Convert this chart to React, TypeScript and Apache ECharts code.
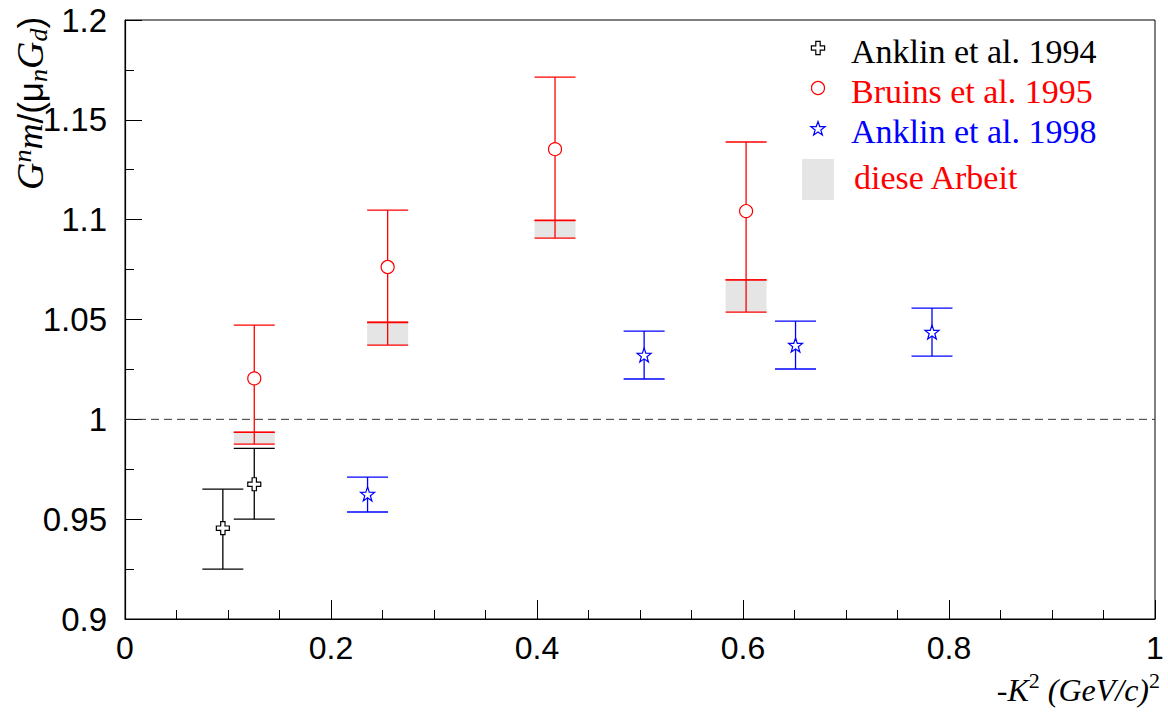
import React, { useEffect, useRef } from "react";
import * as echarts from "echarts";

// ---- data ----
const xTicks = { min: 0, max: 1, interval: 0.2 };
const yTicks = { min: 0.9, max: 1.2, interval: 0.05 };

const anklin94X = [0.095, 0.1255];
const anklin94Y = [0.9455, 0.9675];
const anklin94Lo = [0.925, 0.95];
const anklin94Hi = [0.965, 0.9855];

const bruins95X = [0.1255, 0.255, 0.4175, 0.603];
const bruins95Y = [1.0205, 1.0763, 1.1353, 1.1043];
const bruins95Lo = [0.9935, 1.0485, 1.0995, 1.0698];
const bruins95Hi = [1.0472, 1.1048, 1.1714, 1.1389];

const dieseX = [0.1255, 0.255, 0.4175, 0.603];
const dieseLo = [0.9876, 1.0372, 1.0908, 1.0537];
const dieseHi = [0.9936, 1.0487, 1.0998, 1.0698];

const anklin98X = [0.2355, 0.504, 0.651, 0.7835];
const anklin98Y = [0.9626, 1.0322, 1.0372, 1.0437];
const anklin98Lo = [0.9536, 1.0202, 1.0252, 1.0317];
const anklin98Hi = [0.9711, 1.0442, 1.0492, 1.0557];

const refLineX = [0, 1];
const refLineY = 1;

const legendNames = ["Anklin et al. 1994", "Bruins et al. 1995", "Anklin et al. 1998", "diese Arbeit"];

// ---- styles ----
const RED = "#ff0000";
const BLUE = "#0000ff";
const BLACK = "#000000";
const BOXFILL = "#e5e5e5";
const CAP = 20.5;
const SERIF = "'Liberation Serif', 'Times New Roman', serif";
const SANS = "'Liberation Sans', Arial, sans-serif";

const CROSS_PATH = "path://M-1,-3L1,-3L1,-1L3,-1L3,1L1,1L1,3L-1,3L-1,1L-3,1L-3,-1L-1,-1Z";
const STAR_PTS: number[][] = [
  [0, -1], [0.235, -0.324], [0.951, -0.309], [0.38, 0.124], [0.588, 0.809],
  [0, 0.4], [-0.588, 0.809], [-0.38, 0.124], [-0.951, -0.309], [-0.235, -0.324],
];
const STAR_PATH = "path://M" + STAR_PTS.map((p) => p[0] + "," + p[1]).join("L") + "Z";
const CROSS_PTS: number[][] = [
  [-1, -3], [1, -3], [1, -1], [3, -1], [3, 1], [1, 1], [1, 3], [-1, 3], [-1, 1], [-3, 1], [-3, -1], [-1, -1],
];

function errorBar(color: string, lw: number) {
  return (params: any, api: any) => {
    const x = api.value(0);
    const pLo = api.coord([x, api.value(1)]);
    const pHi = api.coord([x, api.value(2)]);
    const style = { stroke: color, lineWidth: lw };
    return {
      type: "group",
      children: [
        { type: "line", shape: { x1: pLo[0], y1: pLo[1], x2: pHi[0], y2: pHi[1] }, style },
        { type: "line", shape: { x1: pLo[0] - CAP, y1: pLo[1], x2: pLo[0] + CAP, y2: pLo[1] }, style },
        { type: "line", shape: { x1: pHi[0] - CAP, y1: pHi[1], x2: pHi[0] + CAP, y2: pHi[1] }, style },
      ],
    };
  };
}

function boxItem(params: any, api: any) {
  const x = api.value(0);
  const pLo = api.coord([x, api.value(1)]);
  const pHi = api.coord([x, api.value(2)]);
  const style = { stroke: RED, lineWidth: 1.3 };
  return {
    type: "group",
    children: [
      {
        type: "rect",
        shape: { x: pLo[0] - CAP, y: pHi[1], width: 2 * CAP, height: pLo[1] - pHi[1] },
        style: { fill: BOXFILL },
      },
      { type: "line", shape: { x1: pLo[0], y1: pLo[1], x2: pHi[0], y2: pHi[1] }, style },
      { type: "line", shape: { x1: pLo[0] - CAP, y1: pLo[1], x2: pLo[0] + CAP, y2: pLo[1] }, style },
      { type: "line", shape: { x1: pHi[0] - CAP, y1: pHi[1], x2: pHi[0] + CAP, y2: pHi[1] }, style },
    ],
  };
}

export default function App() {
  const ref = useRef<HTMLDivElement>(null);
  useEffect(() => {
    if (!ref.current) return;
    const chart = echarts.init(ref.current, null, { renderer: "svg" });

    const zip3 = (a: number[], b: number[], c: number[]) => a.map((v, i) => [v, b[i], c[i]]);
    const zip2 = (a: number[], b: number[]) => a.map((v, i) => [v, b[i]]);

    const legendX = 818;
    const legendRows = [51, 91, 131, 177];
    const textX = 851;

    const option: any = {
      animation: false,
      backgroundColor: "#ffffff",
      grid: {
        left: 125,
        right: 13,
        top: 20,
        bottom: 95,
        show: true,
        borderColor: "#000",
        borderWidth: 1,
        backgroundColor: "transparent",
      },
      xAxis: {
        type: "value",
        min: xTicks.min,
        max: xTicks.max,
        interval: xTicks.interval,
        axisLine: { show: true, lineStyle: { color: "#000", width: 1.2 } },
        axisTick: { show: true, inside: true, length: 19, lineStyle: { color: "#000", width: 1 } },
        minorTick: { show: true, splitNumber: 4, length: 9, lineStyle: { color: "#000", width: 1 } },
        splitLine: { show: false },
        axisLabel: { color: "#000", fontFamily: SANS, fontSize: 32, margin: 13 },
      },
      yAxis: {
        type: "value",
        min: yTicks.min,
        max: yTicks.max,
        interval: yTicks.interval,
        axisLine: { show: true, lineStyle: { color: "#000", width: 1.2 } },
        axisTick: { show: true, inside: true, length: 17, lineStyle: { color: "#000", width: 1 } },
        minorTick: { show: true, splitNumber: 2, length: 9, lineStyle: { color: "#000", width: 1 } },
        splitLine: { show: false },
        axisLabel: { color: "#000", fontFamily: SANS, fontSize: 33, margin: 18 },
      },
      series: [
        {
          type: "line",
          data: refLineX.map((x) => [x, refLineY]),
          symbol: "none",
          lineStyle: { color: "#333", width: 1, type: [8, 5] },
          z: 1,
        },
        {
          type: "custom",
          name: legendNames[3],
          renderItem: boxItem,
          data: zip3(dieseX, dieseLo, dieseHi),
          encode: { x: 0, y: [1, 2] },
          z: 2,
        },
        {
          type: "custom",
          renderItem: errorBar(RED, 1.3),
          data: zip3(bruins95X, bruins95Lo, bruins95Hi),
          encode: { x: 0, y: [1, 2] },
          z: 3,
        },
        {
          type: "custom",
          renderItem: errorBar(BLACK, 1.3),
          data: zip3(anklin94X, anklin94Lo, anklin94Hi),
          encode: { x: 0, y: [1, 2] },
          z: 3,
        },
        {
          type: "custom",
          renderItem: errorBar(BLUE, 1.3),
          data: zip3(anklin98X, anklin98Lo, anklin98Hi),
          encode: { x: 0, y: [1, 2] },
          z: 3,
        },
        {
          type: "scatter",
          name: legendNames[0],
          data: zip2(anklin94X, anklin94Y),
          symbol: CROSS_PATH,
          symbolSize: 13,
          itemStyle: { color: "#fff", borderColor: BLACK, borderWidth: 1.2, opacity: 1 },
          z: 5,
        },
        {
          type: "scatter",
          name: legendNames[1],
          data: zip2(bruins95X, bruins95Y),
          symbol: "circle",
          symbolSize: 13,
          itemStyle: { color: "#fff", borderColor: RED, borderWidth: 1.2, opacity: 1 },
          z: 5,
        },
        {
          type: "scatter",
          name: legendNames[2],
          data: zip2(anklin98X, anklin98Y),
          symbol: STAR_PATH,
          symbolSize: 14,
          itemStyle: { color: "#fff", borderColor: BLUE, borderWidth: 1.2, opacity: 1 },
          z: 5,
        },
      ],
      graphic: [
        // legend symbols
        {
          type: "polygon",
          shape: { points: CROSS_PTS.map((p) => [legendX + p[0] * 2.2, legendRows[0] - 3 + p[1] * 2.2]) },
          style: { fill: "#fff", stroke: BLACK, lineWidth: 1.2 },
          z: 10,
        },
        {
          type: "circle",
          shape: { cx: legendX, cy: legendRows[1] - 3, r: 6.5 },
          style: { fill: "#fff", stroke: RED, lineWidth: 1.2 },
          z: 10,
        },
        {
          type: "polygon",
          shape: { points: STAR_PTS.map((p) => [legendX + p[0] * 7.5, legendRows[2] - 2 + p[1] * 7.5]) },
          style: { fill: "#fff", stroke: BLUE, lineWidth: 1.2 },
          z: 10,
        },
        {
          type: "rect",
          shape: { x: 802, y: 159, width: 32, height: 41 },
          style: { fill: BOXFILL },
          z: 10,
        },
        // legend texts
        ...[BLACK, RED, BLUE, RED].map((c, i) => ({
          type: "text",
          x: i === 3 ? 854 : textX,
          y: legendRows[i],
          style: {
            text: legendNames[i],
            fill: c,
            font: "34px " + SERIF,
            align: "left",
            verticalAlign: "middle",
          },
          z: 10,
        })),
        // x axis title
        {
          type: "text",
          x: 1160,
          y: 690,
          style: {
            text: "{a|-K}{s|2}{a| (GeV/c)}{s|2}",
            align: "right",
            verticalAlign: "middle",
            rich: {
              a: { fontFamily: SERIF, fontStyle: "italic", fontSize: 32, lineHeight: 42, color: "#000" },
              s: { fontFamily: SERIF, fontSize: 22, verticalAlign: "top", color: "#000" },
            },
          },
          z: 10,
        },
        // y axis title (rotated)
        {
          type: "text",
          x: 51,
          y: 190,
          rotation: Math.PI / 2,
          style: {
            text: "{G|G}{sup|n}{m|m}{s|/(}{s|μ}{sub|n}{G|G}{sub|d}{s|)}",
            align: "left",
            verticalAlign: "bottom",
            rich: {
              G: { fontFamily: SERIF, fontStyle: "italic", fontSize: 38, lineHeight: 42, color: "#000" },
              m: { fontFamily: SERIF, fontStyle: "italic", fontSize: 36, color: "#000" },
              s: { fontFamily: SANS, fontSize: 35, color: "#000" },
              sup: { fontFamily: SERIF, fontStyle: "italic", fontSize: 26, verticalAlign: "top", color: "#000" },
              sub: { fontFamily: SERIF, fontStyle: "italic", fontSize: 26, verticalAlign: "bottom", color: "#000" },
            },
          },
          z: 10,
        },
      ],
    };
    chart.setOption(option);
    return () => chart.dispose();
  }, []);

  return (
    <div
      ref={ref}
      style={{ position: "fixed", left: 0, top: 0, width: 1168, height: 714, background: "#fff" }}
    />
  );
}
